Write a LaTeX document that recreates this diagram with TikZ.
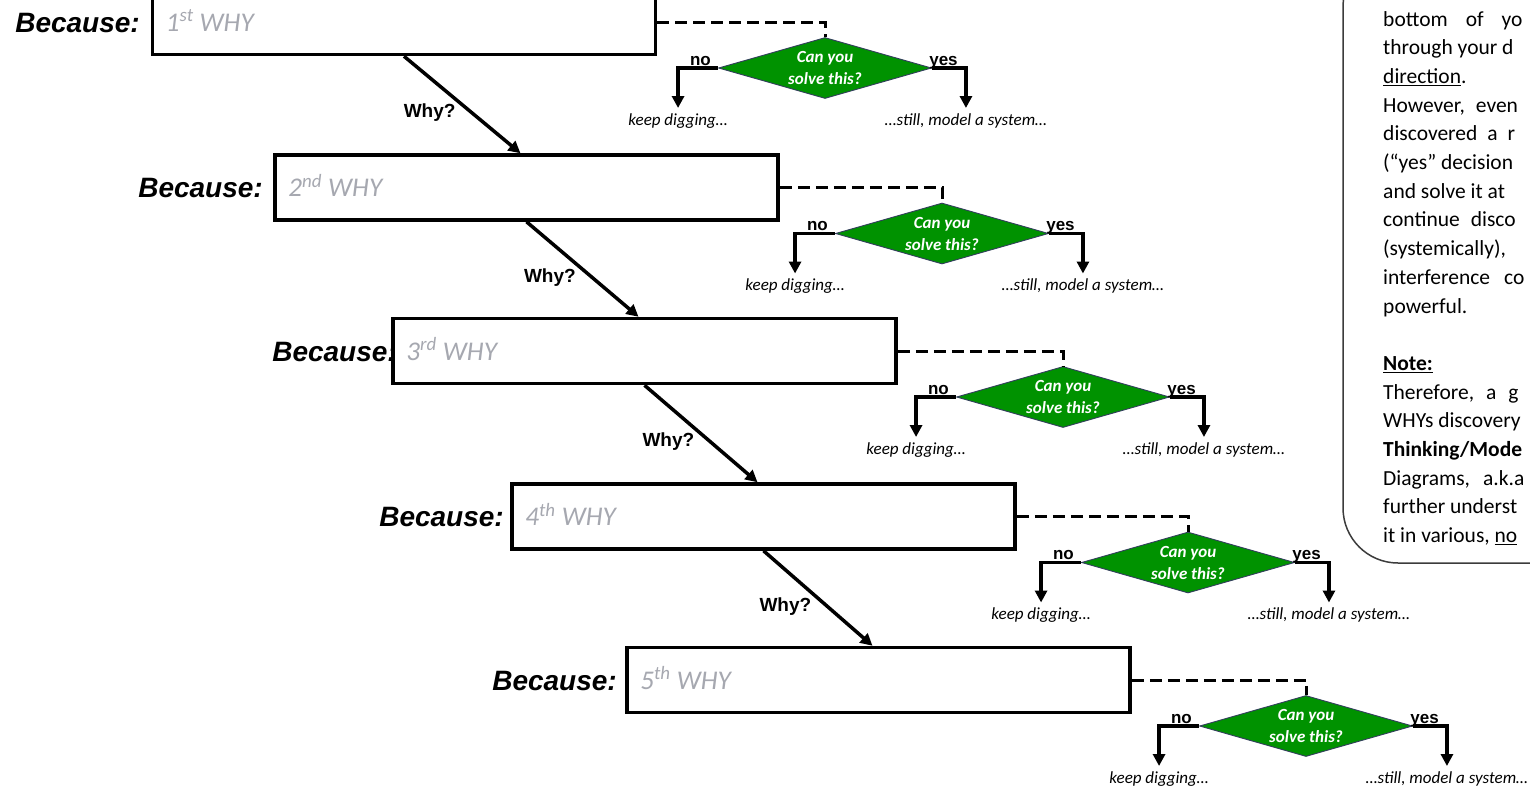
\documentclass[tikz,border=0pt]{standalone}
\usepackage{fontspec}
\setmainfont{Carlito}
\newfontfamily\arialfont{Liberation Sans}
\newfontfamily\calfont{Carlito}
\usetikzlibrary{arrows.meta,shapes.geometric,calc}

\definecolor{whygray}{RGB}{166,168,176}
\definecolor{decgreen}{RGB}{0,146,0}
\definecolor{decedge}{RGB}{50,62,92}
\definecolor{panelline}{RGB}{60,60,60}

\tikzset{
  whybox/.style={draw, line width=3.5pt, fill=white, rectangle,
    minimum width=503pt, minimum height=65pt, inner sep=0pt},
  becauselbl/.style={font=\arialfont\bfseries\itshape\fontsize{28}{30}\selectfont,
    anchor=base east, inner sep=0pt},
  whytxt/.style={font=\calfont\itshape\fontsize{27}{29}\selectfont, text=whygray,
    anchor=base west, inner sep=0pt},
  whyarrow/.style={line width=3.5pt, -{Triangle[length=12pt,width=12pt]}},
  whylbl/.style={font=\arialfont\bfseries\fontsize{19}{21}\selectfont,
    anchor=east, inner sep=0pt},
  decision/.style={diamond, draw=decedge, line width=0.9pt, fill=decgreen,
    minimum width=213pt, minimum height=61pt, inner sep=0pt},
  dectxt/.style={font=\calfont\bfseries\itshape\fontsize{17}{22}\selectfont,
    text=white, align=center, inner sep=0pt},
  dashlink/.style={line width=3pt, dash pattern=on 12pt off 6pt},
  branch/.style={line width=3.5pt, -{Triangle[length=12pt,width=12pt]}},
  branchlbl/.style={font=\arialfont\bfseries\fontsize{17}{19}\selectfont,
    anchor=base, yshift=3pt, inner sep=0pt},
  outcome/.style={font=\calfont\itshape\fontsize{17}{19}\selectfont,
    below, inner sep=5pt},
  notepanel/.style={draw=panelline, line width=1.5pt, rounded corners=55pt,
    fill=white, inner sep=0pt},
  notetxt/.style={font=\calfont\fontsize{21.5}{26}\selectfont,
    anchor=base west, inner sep=0pt},
}

\begin{document}
\begin{tikzpicture}[x=1pt,y=-1pt]
\useasboundingbox (0,0) rectangle (1530,785);
\clip (0,0) rectangle (1530,785);

% side panel with the explanatory notes
\node[notepanel, minimum width=277pt, minimum height=611pt] (panel) at (1481.5,257.5) {};
\node[notetxt] (p1)  at (1383,26)    {bottom\hspace{18pt}of\hspace{18pt}yo};
\node[notetxt] (p2)  at (1383,54.7)  {through your d};
\node[notetxt] (p3)  at (1383,83.4)  {\underline{direction}.};
\node[notetxt] (p4)  at (1383,112.1) {However,\hspace{11pt}even};
\node[notetxt] (p5)  at (1383,140.8) {discovered\hspace{10pt}a\hspace{10pt}r};
\node[notetxt] (p6)  at (1383,169.5) {(“yes” decision};
\node[notetxt] (p7)  at (1383,198.2) {and solve it at};
\node[notetxt] (p8)  at (1383,226.9) {continue\hspace{11pt}disco};
\node[notetxt] (p9)  at (1383,255.6) {(systemically),};
\node[notetxt] (p10) at (1383,284.3) {interference\hspace{14pt}co};
\node[notetxt] (p11) at (1383,313)   {powerful.};
\node[notetxt] (p12) at (1383,370.4) {\underline{\bfseries Note:}};
\node[notetxt] (p13) at (1383,399.1) {Therefore,\hspace{12pt}a\hspace{12pt}g};
\node[notetxt] (p14) at (1383,427.8) {WHYs discovery};
\node[notetxt] (p15) at (1383,456.5) {\bfseries Thinking/Mode};
\node[notetxt] (p16) at (1383,485.2) {Diagrams,\hspace{13pt}a.k.a};
\node[notetxt] (p17) at (1383,513.9) {further underst};
\node[notetxt] (p18) at (1383,542.6) {it in various, \underline{no}};

% the five WHY rows: index / box centre x / box centre y / label right x / decision x / ordinal
\foreach \i/\bx/\by/\lx/\dx/\ord in {1/404/22/140/825/st, 2/526.5/187.5/263/942/nd,
    3/644.5/351/397/1063/rd, 4/763.5/516.5/504/1188/th, 5/878.5/680/617/1306/th} {
  \node[becauselbl] (lbl\i) at (\lx,\by+10) {Because:};
  \node[whybox] (b\i) at (\bx,\by) {};
  \node[whytxt] (t\i) at ($(b\i.west)+(15,9)$) {\i\textsuperscript{\ord} WHY};
  \node[decision] (d\i) at (\dx,\by+46) {};
  \node[dectxt] (q\i) at (d\i.center) {Can you\\solve this?};
  \draw[dashlink] (b\i.east) -| (d\i.north);
  \coordinate (n\i) at ($(d\i.west)+(-40,40)$);
  \coordinate (y\i) at ($(d\i.east)+(34,40)$);
  \draw[branch] (d\i.west) -| node[branchlbl, pos=0.22] {no} (n\i);
  \draw[branch] (d\i.east) -| node[branchlbl, pos=0.17] {yes} (y\i);
  \node[outcome] (k\i) at (n\i) {keep digging…};
  \node[outcome] (s\i) at (y\i) {…still, model a system…};
}

% the "Why?" steps between consecutive boxes
\foreach \i/\j in {1/2, 2/3, 3/4, 4/5} {
  \draw[whyarrow] (b\i.south) -- ([xshift=-6pt]b\j.north)
    node[midway, whylbl, xshift=-5pt, yshift=-8pt] (w\i) {Why?};
}
\end{tikzpicture}
\end{document}
